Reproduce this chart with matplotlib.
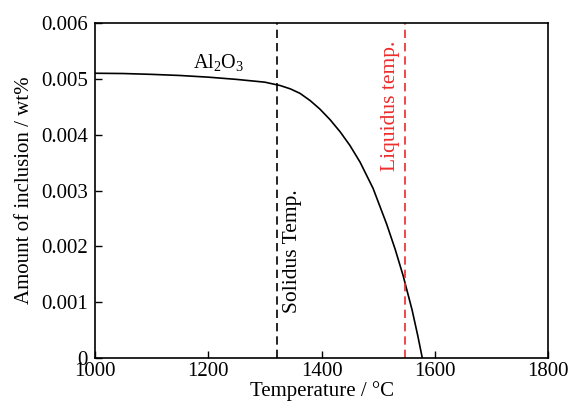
import matplotlib
matplotlib.use("Agg")
import matplotlib.pyplot as plt

plt.rcParams['font.family'] = ['Liberation Serif', 'DejaVu Serif']
plt.rcParams['mathtext.fontset'] = 'custom'
plt.rcParams['mathtext.rm'] = 'Liberation Serif'
plt.rcParams['mathtext.it'] = 'Liberation Serif:italic'

# data
temp = [1000, 1050, 1100, 1150, 1200, 1250, 1300, 1327, 1345, 1362, 1380, 1397, 1415,
        1433, 1450, 1468, 1491, 1515, 1530, 1544, 1560, 1570, 1578]
amount = [0.00510, 0.005095, 0.00508, 0.00506, 0.00503, 0.00499, 0.00494, 0.00488,
          0.00482, 0.00474, 0.00461, 0.00446, 0.00427, 0.00405, 0.00381, 0.00351,
          0.00304, 0.00240, 0.00195, 0.00148, 0.00086, 0.00040, 0.0]
solidus = 1321
liquidus = 1548
yticks = [0, 0.001, 0.002, 0.003, 0.004, 0.005, 0.006]
ytick_labels = ['0', '0.001', '0.002', '0.003', '0.004', '0.005', '0.006']
xticks = [1000, 1200, 1400, 1600, 1800]

fig = plt.figure(figsize=(5.7, 4.09), dpi=100)
ax = fig.add_axes([95 / 570, 1 - 358 / 409, 453 / 570, 335 / 409])

ax.plot(temp, amount, color='black', lw=1.2, solid_joinstyle='round')
ax.axvline(solidus, color='black', ls=(0, (5, 3)), lw=1.2)
ax.axvline(liquidus, color='#ee2b2b', ls=(0, (5, 3)), lw=1.2)

ax.text(1218, 0.0053, r'Al$_2$O$_3$', fontsize=14.5, ha='center', va='center')
ax.text(1348, 0.00192, 'Solidus Temp.', rotation=90, fontsize=15.5, ha='center', va='center')
ax.text(1522, 0.00451, 'Liquidus temp.', rotation=90, fontsize=15.5, ha='center', va='center',
        color='#ee2b2b')

ax.set_xlim(1000, 1800)
ax.set_ylim(0, 0.006)
ax.set_xticks(xticks)
ax.set_yticks(yticks)
ax.set_yticklabels(ytick_labels)
ax.tick_params(direction='in', labelsize=15, length=5, width=1)
ax.tick_params(axis='x', pad=3)
ax.tick_params(axis='y', pad=5)
for s in ax.spines.values():
    s.set_linewidth(1.2)

ax.set_xlabel('Temperature / °C', fontsize=15, labelpad=0)
ax.set_ylabel('Amount of inclusion / wt%', fontsize=15, labelpad=5)

fig.savefig('out.png', dpi=100)
